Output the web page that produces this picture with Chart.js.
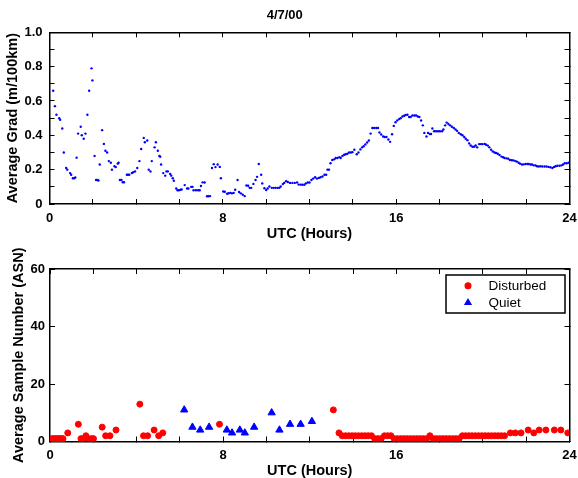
<!DOCTYPE html>
<html>
<head>
<meta charset="utf-8">
<title>4/7/00</title>
<script src="https://cdn.jsdelivr.net/npm/chart.js@4.4.1/dist/chart.umd.min.js"></script>
<style>
  body { margin: 0; background: #fff; }
  #wrap { position: relative; width: 578px; height: 478px; overflow: hidden; }
  canvas { position: absolute; left: 0; }
</style>
</head>
<body>
<div id="wrap">
  <canvas id="gradChart" width="578" height="248" style="top:0"></canvas>
  <canvas id="asnChart" width="578" height="230" style="top:248px"></canvas>
</div>
<script>
// Average gradient through the day (UTC hours)
const gradHours = [
  0.17, 0.25, 0.32, 0.45, 0.49, 0.59, 0.66, 0.77, 0.82, 0.95, 1.00, 1.08, 1.14, 1.19, 1.25, 1.32, 1.44, 1.49, 1.58, 1.66,
  1.75, 1.83, 1.94, 1.98, 2.08, 2.15, 2.22, 2.26, 2.32, 2.43, 2.51, 2.58, 2.66, 2.74, 2.83, 2.88, 3.00, 3.06, 3.15, 3.19,
  3.25, 3.32, 3.38, 3.44, 3.57, 3.62, 3.68, 3.80, 3.86, 3.95, 4.05, 4.15, 4.23, 4.35, 4.40, 4.51, 4.58, 4.66, 4.72, 4.85,
  4.91, 5.00, 5.07, 5.11, 5.15, 5.25, 5.34, 5.40, 5.46, 5.57, 5.62, 5.69, 5.74, 5.85, 5.91, 5.98, 6.05, 6.10, 6.24, 6.35,
  6.41, 6.54, 6.60, 6.65, 6.76, 6.86, 6.93, 6.99, 7.07, 7.16, 7.27, 7.34, 7.41, 7.50, 7.58, 7.66, 7.76, 7.86, 7.91, 8.02,
  8.09, 8.20, 8.27, 8.35, 8.42, 8.50, 8.57, 8.68, 8.75, 8.83, 8.92, 9.01, 9.09, 9.17, 9.24, 9.31, 9.41, 9.51, 9.58, 9.66,
  9.77, 9.82, 9.92, 10.00, 10.07, 10.15, 10.26, 10.35, 10.44, 10.53, 10.61, 10.67, 10.77, 10.83, 10.92, 11.00, 11.10, 11.21, 11.32, 11.43,
  11.50, 11.59, 11.67, 11.76, 11.83, 11.92, 12.00, 12.09, 12.17, 12.26, 12.34, 12.43, 12.51, 12.60, 12.69, 12.77, 12.83, 12.90, 12.97, 13.05,
  13.14, 13.21, 13.29, 13.38, 13.44, 13.52, 13.60, 13.67, 13.75, 13.83, 13.91, 13.98, 14.07, 14.18, 14.26, 14.35, 14.43, 14.50, 14.58, 14.66,
  14.74, 14.82, 14.90, 14.98, 15.08, 15.16, 15.23, 15.31, 15.40, 15.47, 15.55, 15.64, 15.72, 15.81, 15.89, 15.97, 16.05, 16.14, 16.21, 16.29,
  16.37, 16.44, 16.52, 16.60, 16.67, 16.75, 16.84, 16.92, 17.00, 17.07, 17.15, 17.23, 17.30, 17.40, 17.47, 17.55, 17.61, 17.67, 17.75, 17.84,
  17.93, 18.02, 18.12, 18.18, 18.26, 18.33, 18.41, 18.49, 18.57, 18.66, 18.74, 18.81, 18.89, 18.98, 19.06, 19.14, 19.21, 19.29, 19.37, 19.44,
  19.52, 19.60, 19.67, 19.74, 19.83, 19.91, 19.99, 20.09, 20.15, 20.23, 20.30, 20.38, 20.46, 20.54, 20.61, 20.69, 20.77, 20.86, 20.94, 21.00,
  21.09, 21.17, 21.25, 21.34, 21.42, 21.50, 21.57, 21.65, 21.72, 21.81, 21.89, 21.97, 22.05, 22.12, 22.20, 22.27, 22.35, 22.43, 22.50, 22.58,
  22.66, 22.75, 22.85, 22.94, 23.03, 23.12, 23.21, 23.29, 23.36, 23.44, 23.54, 23.63, 23.70, 23.78, 23.87, 23.96
];
const gradValues = [
  0.66, 0.57, 0.52, 0.50, 0.49, 0.44, 0.30, 0.21, 0.20, 0.18, 0.17, 0.15, 0.15, 0.155, 0.27, 0.41, 0.45, 0.40, 0.38, 0.41,
  0.52, 0.66, 0.79, 0.72, 0.28, 0.14, 0.14, 0.137, 0.23, 0.43, 0.35, 0.31, 0.30, 0.25, 0.24, 0.20, 0.22, 0.215, 0.235, 0.24,
  0.14, 0.14, 0.127, 0.127, 0.17, 0.17, 0.17, 0.18, 0.185, 0.19, 0.21, 0.25, 0.32, 0.385, 0.36, 0.37, 0.20, 0.19, 0.25, 0.33,
  0.36, 0.31, 0.28, 0.275, 0.23, 0.18, 0.165, 0.19, 0.19, 0.175, 0.165, 0.15, 0.135, 0.09, 0.08, 0.08, 0.083, 0.085, 0.11, 0.09,
  0.09, 0.10, 0.10, 0.08, 0.08, 0.08, 0.08, 0.105, 0.126, 0.125, 0.045, 0.045, 0.046, 0.21, 0.232, 0.215, 0.23, 0.216, 0.15, 0.073,
  0.071, 0.06, 0.063, 0.065, 0.062, 0.065, 0.083, 0.14, 0.07, 0.062, 0.054, 0.046, 0.108, 0.106, 0.094, 0.094, 0.117, 0.14, 0.158, 0.233,
  0.17, 0.12, 0.092, 0.081, 0.09, 0.102, 0.094, 0.094, 0.094, 0.094, 0.094, 0.102, 0.116, 0.123, 0.133, 0.128, 0.123, 0.123, 0.123, 0.125,
  0.113, 0.113, 0.112, 0.112, 0.12, 0.125, 0.125, 0.14, 0.148, 0.156, 0.148, 0.152, 0.156, 0.16, 0.17, 0.17, 0.20, 0.20, 0.237, 0.256,
  0.26, 0.268, 0.268, 0.273, 0.268, 0.28, 0.287, 0.29, 0.293, 0.30, 0.30, 0.302, 0.316, 0.29, 0.30, 0.318, 0.33, 0.337, 0.347, 0.358,
  0.37, 0.41, 0.443, 0.443, 0.443, 0.443, 0.416, 0.405, 0.393, 0.39, 0.39, 0.376, 0.362, 0.406, 0.455, 0.476, 0.487, 0.495, 0.50, 0.51,
  0.514, 0.518, 0.52, 0.507, 0.507, 0.515, 0.515, 0.515, 0.51, 0.507, 0.486, 0.458, 0.414, 0.393, 0.414, 0.408, 0.408, 0.44, 0.424, 0.424,
  0.424, 0.424, 0.424, 0.434, 0.458, 0.474, 0.466, 0.458, 0.45, 0.443, 0.434, 0.426, 0.414, 0.406, 0.40, 0.39, 0.38, 0.372, 0.353, 0.341,
  0.333, 0.333, 0.341, 0.33, 0.349, 0.349, 0.349, 0.35, 0.345, 0.34, 0.33, 0.316, 0.306, 0.30, 0.297, 0.293, 0.285, 0.276, 0.272, 0.268,
  0.266, 0.264, 0.256, 0.255, 0.254, 0.25, 0.247, 0.24, 0.235, 0.23, 0.231, 0.233, 0.233, 0.233, 0.23, 0.23, 0.225, 0.225, 0.22, 0.218,
  0.22, 0.218, 0.218, 0.218, 0.216, 0.214, 0.21, 0.216, 0.22, 0.223, 0.223, 0.225, 0.23, 0.237, 0.237, 0.24
];

// Average sample number, disturbed periods
const disturbedHours = [
  0.10, 0.17, 0.25, 0.32, 0.39, 0.46, 0.53, 0.60, 0.82, 1.31, 1.43, 1.55, 1.66, 1.78, 1.92, 2.01, 2.41, 2.57, 2.77, 3.05,
  4.15, 4.32, 4.51, 4.81, 5.02, 5.21, 7.83, 13.09, 13.35,
  13.50, 13.65, 13.80, 13.95, 14.10, 14.25, 14.40, 14.55, 14.70, 14.85,
  15.00, 15.15, 15.30, 15.45, 15.60, 15.75,
  15.90, 16.05, 16.20, 16.35, 16.50, 16.65, 16.80, 16.95, 17.10, 17.25, 17.40, 17.55,
  17.70, 17.85, 18.00, 18.15, 18.30, 18.45, 18.60, 18.75, 18.90,
  19.05, 19.20, 19.35, 19.50, 19.65, 19.80, 19.95, 20.10, 20.25, 20.40, 20.55, 20.70, 20.85, 21.00,
  21.27, 21.50, 21.76, 22.09, 22.35, 22.60, 22.91, 23.30, 23.60, 23.92
];
const disturbedValues = [
  1, 1, 1, 1, 1, 1, 1, 1, 3, 6, 1, 1, 2, 1, 1, 1, 5, 2, 2, 4,
  13, 2, 2, 4, 2, 3, 6, 11, 3,
  2, 2, 2, 2, 2, 2, 2, 2, 2, 2,
  1, 1, 1, 2, 2, 2,
  1, 1, 1, 1, 1, 1, 1, 1, 1, 1, 1, 2,
  1, 1, 1, 1, 1, 1, 1, 1, 1,
  2, 2, 2, 2, 2, 2, 2, 2, 2, 2, 2, 2, 2, 2,
  3, 3, 3, 4, 3, 4, 4, 4, 4, 3
];

// Average sample number, quiet periods
const quietHours = [6.20, 6.58, 6.94, 7.35, 8.17, 8.41, 8.77, 9.00, 9.43, 10.24, 10.60, 11.09, 11.58, 12.10];
const quietValues = [11, 5, 4, 5, 4, 3, 4, 3, 5, 10, 4, 6, 6, 7];

const hourTicks = [0, 8, 16, 24];

const FONT = "'Liberation Sans', Arial, Helvetica, sans-serif";
const toPoints = (xs, ys) => xs.map((x, i) => ({ x: x, y: ys[i] }));

// frame axis: inward ticks, black border, optional labels and title
function frameAxis(position, opts) {
  const horizontal = position === 'top' || position === 'bottom';
  const font = { family: FONT, size: 13, weight: 'bold' };
  // on the x axis the label drop comes from the line height, so the
  // tick padding (which also pads the chart edges) can stay small
  if (horizontal && opts.labels) font.lineHeight = opts.labelLine;
  return {
    type: 'linear',
    position: position,
    min: opts.min,
    max: opts.max,
    grid: { display: true, drawOnChartArea: false, drawTicks: true, tickLength: -5, color: '#000', lineWidth: 1 },
    border: { display: true, color: '#000', width: 1.5 },
    ticks: {
      display: !!opts.labels,
      stepSize: opts.step,
      autoSkip: false,
      maxRotation: 0,
      padding: opts.padding || 0,
      color: '#000',
      font: font,
      callback: opts.labels || (() => '')
    },
    title: opts.title ? {
      display: true,
      text: opts.title,
      color: '#000',
      font: { family: FONT, size: 14.5, weight: 'bold', lineHeight: 1 },
      padding: opts.titlePadding
    } : { display: false },
    afterFit: (scale) => {
      if (horizontal) scale.height = opts.size; else scale.width = opts.size;
    }
  };
}

const hourLabel = (v) => hourTicks.includes(v) ? String(v) : '';

// legend drawn in a framed box at the top right of the plot
const legendBox = {
  id: 'legendBox',
  afterDraw(chart) {
    const { ctx, chartArea } = chart;
    const w = 119, h = 38;
    const x = chartArea.right - 4.5 - w;
    const y = chartArea.top + 6;
    ctx.save();
    ctx.fillStyle = '#fff';
    ctx.fillRect(x, y, w, h);
    ctx.strokeStyle = '#000';
    ctx.lineWidth = 1.5;
    ctx.strokeRect(x, y, w, h);
    chart.data.datasets.forEach((ds, i) => {
      const cx = x + 22;
      const cy = y + 10.7 + i * 17;
      ctx.fillStyle = ds.backgroundColor;
      ctx.beginPath();
      if (ds.pointStyle === 'triangle') {
        const r = ds.pointRadius + 0.5;
        ctx.moveTo(cx, cy - r);
        ctx.lineTo(cx + r * 0.866, cy + r * 0.5);
        ctx.lineTo(cx - r * 0.866, cy + r * 0.5);
        ctx.closePath();
      } else {
        ctx.arc(cx, cy, ds.pointRadius + 0.5, 0, Math.PI * 2);
      }
      ctx.fill();
      ctx.fillStyle = '#000';
      ctx.font = '13.5px ' + FONT;
      ctx.textBaseline = 'middle';
      ctx.textAlign = 'left';
      ctx.fillText(ds.label, x + 42.6, cy + 0.5);
    });
    ctx.restore();
  }
};

// top chart: average gradient
new Chart(document.getElementById('gradChart'), {
  type: 'scatter',
  data: {
    datasets: [{
      label: 'Average Grad',
      data: toPoints(gradHours, gradValues),
      pointRadius: 1.2,
      borderWidth: 0,
      backgroundColor: '#0000ff'
    }]
  },
  options: {
    responsive: false,
    animation: false,
    layout: { padding: { left: 0, right: 8.5, top: 0, bottom: 0 } },
    plugins: {
      legend: { display: false },
      tooltip: { enabled: false },
      title: {
        display: true,
        text: '4/7/00',
        color: '#000',
        font: { family: FONT, size: 13, weight: 'bold' },
        padding: { top: 8, bottom: 8.7 }
      }
    },
    scales: {
      x: frameAxis('bottom', { min: 0, max: 24, step: 2, labels: hourLabel, padding: 1, labelLine: '36px', size: 44,
        title: 'UTC (Hours)', titlePadding: { top: 0, bottom: 6.75 } }),
      x2: frameAxis('top', { min: 0, max: 24, step: 2, size: 0 }),
      y: frameAxis('left', { min: 0, max: 1, step: 0.1, padding: 12, size: 49.5,
        labels: (v) => {
          const t = Math.round(v * 10);
          if (t % 2 !== 0) return '';
          return t === 0 ? '0' : (t / 10).toFixed(1);
        },
        title: 'Average Grad (m/100km)', titlePadding: { top: 5.5, bottom: 0 } }),
      y2: frameAxis('right', { min: 0, max: 1, step: 0.1, size: 0 })
    }
  }
});

// bottom chart: average sample number
new Chart(document.getElementById('asnChart'), {
  type: 'scatter',
  data: {
    datasets: [{
      label: 'Disturbed',
      data: toPoints(disturbedHours, disturbedValues),
      pointStyle: 'circle',
      pointRadius: 3,
      borderWidth: 1,
      backgroundColor: '#ff0000',
      borderColor: '#ff0000'
    }, {
      label: 'Quiet',
      data: toPoints(quietHours, quietValues),
      pointStyle: 'triangle',
      pointRadius: 4.2,
      borderWidth: 1,
      backgroundColor: '#0000ff',
      borderColor: '#0000ff'
    }]
  },
  options: {
    responsive: false,
    animation: false,
    layout: { padding: { left: 0, right: 8.5, top: 21, bottom: 0 } },
    plugins: {
      legend: { display: false },
      tooltip: { enabled: false }
    },
    scales: {
      x: frameAxis('bottom', { min: 0, max: 24, step: 2, labels: hourLabel, padding: 1, labelLine: '36px', size: 36.5,
        title: 'UTC (Hours)', titlePadding: { top: 0, bottom: 0 } }),
      x2: frameAxis('top', { min: 0, max: 24, step: 2, size: 0 }),
      y: frameAxis('left', { min: 0, max: 60, step: 20, padding: 10, size: 50,
        labels: (v) => String(v),
        title: 'Average Sample Number (ASN)', titlePadding: { top: 11.25, bottom: 0 } }),
      y2: frameAxis('right', { min: 0, max: 60, step: 20, size: 0 })
    }
  },
  plugins: [legendBox]
});
</script>
</body>
</html>
